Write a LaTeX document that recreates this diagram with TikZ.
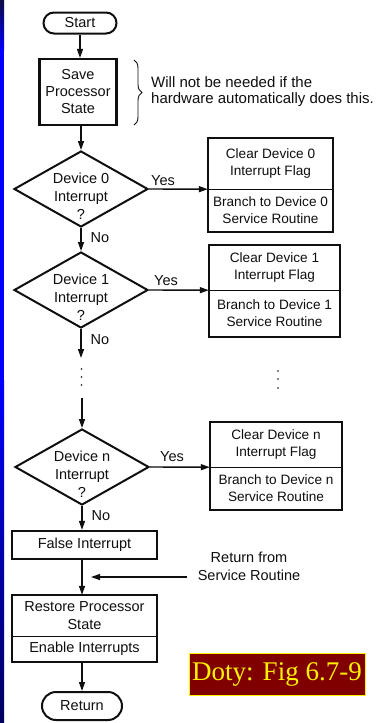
\documentclass[tikz,border=0pt]{standalone}
\usepackage{fontspec}
\setmainfont{Liberation Sans}
\newfontfamily\timesf{Liberation Serif}
\usetikzlibrary{shapes.geometric,shapes.misc,arrows.meta,decorations.pathreplacing}
\definecolor{navytop}{RGB}{12,12,70}
\definecolor{navybot}{RGB}{0,0,95}
\definecolor{dotyred}{RGB}{128,0,0}
\definecolor{ink}{RGB}{15,15,15}
\begin{document}
\begin{tikzpicture}[x=1pt,y=-1pt,
  font=\fontsize{14.5}{17}\selectfont,
  every node/.style={text=ink},
  term/.style={rounded rectangle, draw=ink, line width=2pt, inner sep=0},
  proc/.style={draw=ink, line width=2.2pt, align=center, inner sep=0},
  half/.style={align=center, inner sep=0, font=\fontsize{13.6}{17}\selectfont},
  dia/.style={diamond, draw=ink, line width=2pt, minimum width=134pt, minimum height=76pt, inner sep=0},
  diatext/.style={align=center, inner sep=0, font=\fontsize{14.5}{18}\selectfont},
  lbl/.style={inner sep=0},
  outer/.style={draw=ink, line width=2pt},
  divider/.style={draw=ink, line width=1pt},
  arr/.style={draw=ink, line width=1.4pt, -{Triangle[length=9pt,width=6pt]}},
  dotmark/.style={fill=ink}
]
\useasboundingbox (0,0) rectangle (378,723);
\fill[white] (0,0) rectangle (378,723);
% left stripe
\shade[top color=navytop, bottom color=blue] (0,0) rectangle (4,50.5);
\fill[blue] (0,50) rectangle (4,380.5);
\shade[top color=blue, bottom color=navybot] (0,380) rectangle (4,723);

% start and save
\node[term, minimum width=73pt, minimum height=21pt] (start) at (80,23) {Start};
\node[proc, minimum width=77pt, minimum height=66pt] (save) at (78,92) {Save\\Processor\\State};
\draw[arr] (start.south) -- (start.south |- save.north);

% brace and note
\coordinate (bt) at (134,60);
\coordinate (bb) at (134,125);
\draw[draw=ink, line width=0.9pt, decorate, decoration={brace, amplitude=8pt}] (bt) -- (bb);
\node[lbl, anchor=west, align=left, font=\fontsize{15}{16}\selectfont] (note) at (151,92)
  {Will not be needed if the\\hardware automatically does this.};

% device 0
\node[dia] (d0) at (81,189) {};
\node[diatext] (t0) at (81,196) {Device 0\\Interrupt\\?};
\draw[arr] (save.south -| d0.north) -- (d0.north);
\node[lbl] (y0) at (163,181) {Yes};
\node[half, minimum width=125pt, minimum height=51pt] (c0) at (270.5,163.5) {Clear Device 0\\Interrupt Flag};
\node[half, minimum width=125pt, minimum height=43pt] (b0) at (270.5,210.5) {Branch to Device 0\\Service Routine};
\draw[outer] (c0.north west) rectangle (b0.south east);
\draw[divider] (c0.south west) -- (c0.south east);
\draw[arr] (d0.east) -- (c0.south west);
\node[lbl] (n0) at (100,238) {No};

% device 1
\node[dia] (d1) at (81,290) {};
\node[diatext] (t1) at (81,297) {Device 1\\Interrupt\\?};
\draw[arr] (d0.south) -- (d1.north);
\node[lbl] (y1) at (166,281) {Yes};
\node[half, minimum width=131pt, minimum height=45pt] (c1) at (274.5,267.5) {Clear Device 1\\Interrupt Flag};
\node[half, minimum width=131pt, minimum height=47pt] (b1) at (274.5,313.5) {Branch to Device 1\\Service Routine};
\draw[outer] (c1.north west) rectangle (b1.south east);
\draw[divider] (c1.south west) -- (c1.south east);
\draw[arr] (d1.east) -- (c1.south west);
\node[lbl] (n1) at (100,340) {No};

% ellipsis
\coordinate (v1) at (81,358);
\draw[arr] (d1.south) -- (v1);
\fill[dotmark] (81.5,369) circle (0.9);
\fill[dotmark] (81.5,377) circle (0.9);
\fill[dotmark] (81.5,385) circle (0.9);
\fill[dotmark] (278,371) circle (0.9);
\fill[dotmark] (278,379) circle (0.9);
\fill[dotmark] (278,388) circle (0.9);

% device n
\node[dia] (dn) at (82,467) {};
\node[diatext] (tn) at (82,474) {Device n\\Interrupt\\?};
\coordinate (v2) at (82,398);
\draw[arr] (v2) -- (dn.north);
\node[lbl] (yn) at (172,457) {Yes};
\node[half, minimum width=132pt, minimum height=45pt] (cn) at (276,444.5) {Clear Device n\\Interrupt Flag};
\node[half, minimum width=132pt, minimum height=43pt] (bn) at (276,488.5) {Branch to Device n\\Service Routine};
\draw[outer] (cn.north west) rectangle (bn.south east);
\draw[divider] (cn.south west) -- (cn.south east);
\draw[arr] (dn.east) -- (cn.south west);
\node[lbl] (nn) at (101,516) {No};

% false interrupt
\node[proc, minimum width=145pt, minimum height=28pt] (false) at (84.5,545) {False Interrupt};
\draw[arr] (dn.south) -- (dn.south |- false.north);

% restore
\node[half, font=\fontsize{14.5}{18}\selectfont, minimum width=145pt, minimum height=41pt] (rt) at (84.5,615.5) {Restore Processor\\State};
\node[half, font=\fontsize{14.5}{17}\selectfont, minimum width=145pt, minimum height=26pt] (rb) at (84.5,649) {Enable Interrupts};
\draw[outer, line width=2.2pt] (rt.north west) rectangle (rb.south east);
\draw[divider] (rt.south west) -- (rt.south east);
\draw[arr] (false.south -| dn.south) -- (rt.north -| dn.south);

% return from service routine
\node[lbl, align=center, font=\fontsize{14.5}{18}\selectfont] (rfnote) at (249,566) {Return from\\Service Routine};
\coordinate (rf) at (187,577);
\coordinate (rftip) at (91,577);
\draw[arr] (rf) -- (rftip);

% return
\node[term, minimum width=80pt, minimum height=28pt] (ret) at (82,706) {Return};
\draw[arr] (rb.south -| ret.north) -- (ret.north);

% label
\node[fill=dotyred, draw=yellow, line width=0.8pt, text=yellow, inner sep=0,
  minimum width=176pt, minimum height=42pt, font=\timesf\fontsize{27}{30}\selectfont] (doty) at (277,674) {Doty: Fig 6.7-9};
\end{tikzpicture}
\end{document}
